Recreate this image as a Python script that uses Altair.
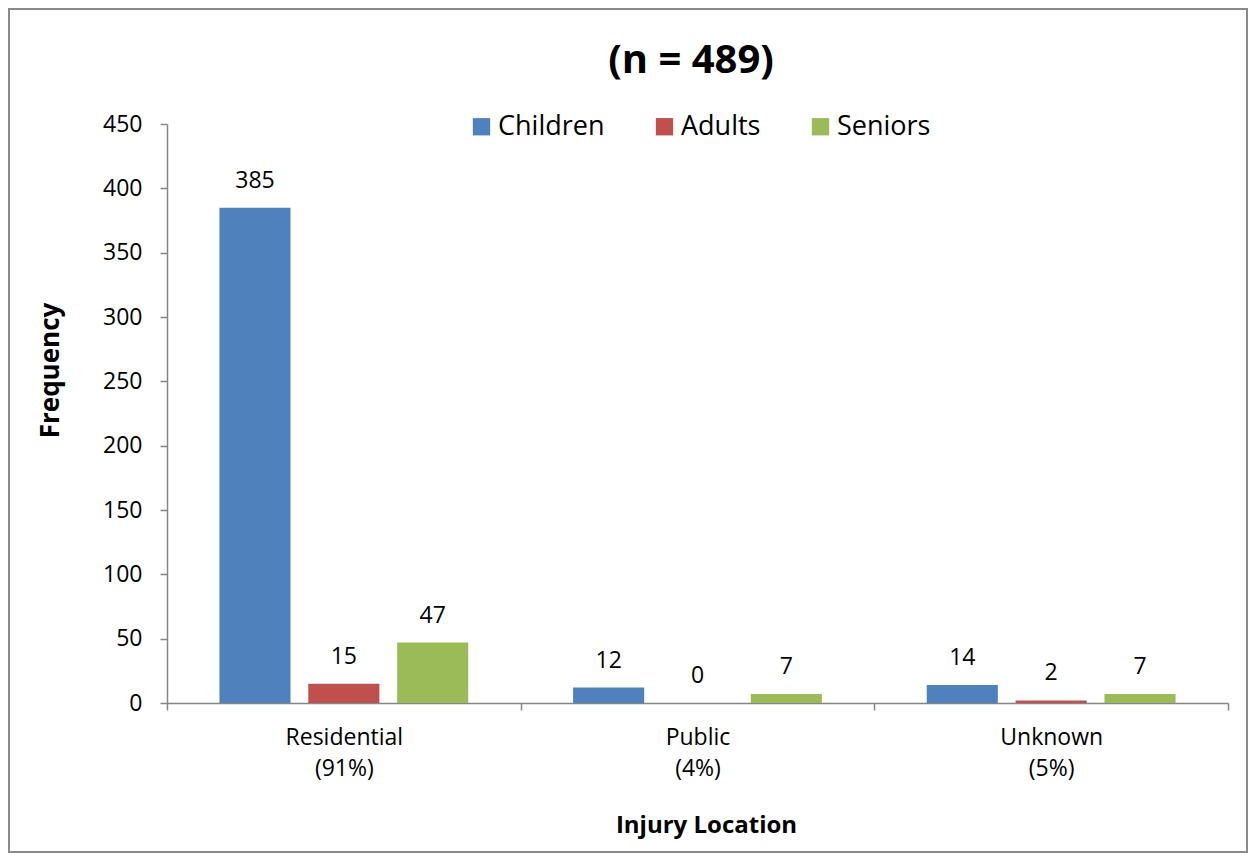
import altair as alt
import pandas as pd

# ---- data ----
categories = ["Residential", "Public", "Unknown"]
shares = ["(91%)", "(4%)", "(5%)"]
groups = ["Children", "Adults", "Seniors"]
children = [385, 12, 14]
adults = [15, 0, 2]
seniors = [47, 7, 7]
colors = ["#4F81BD", "#C0504D", "#9BBB59"]
title_text = "(n = 489)"
y_ticks = list(range(0, 451, 50))

loc_labels = [c + "|" + s for c, s in zip(categories, shares)]
rows = []
for i, loc in enumerate(loc_labels):
    for g, vals in zip(groups, [children, adults, seniors]):
        rows.append({"loc": loc, "group": g, "value": vals[i]})
df = pd.DataFrame(rows)

W, H = 1061, 579
FONT = "Open Sans"
AXIS_GRAY = "#868686"

x_enc = alt.X(
    "loc:N",
    sort=loc_labels,
    scale=alt.Scale(paddingInner=0, paddingOuter=0),
    axis=alt.Axis(
        title="Injury Location",
        labelExpr="split(datum.label, '|')",
        labelAngle=0,
        labelFontSize=23,
        labelLineHeight=31,
        labelPadding=16,
        labelColor="black",
        tickSize=7,
        tickBand="extent",
        domainColor=AXIS_GRAY,
        tickColor=AXIS_GRAY,
        domainWidth=1.5,
        tickWidth=1.5,
        titleFontSize=24,
        titleFontWeight="bold",
        titleColor="black",
        titleX=539,
        titleY=129,
        titleAlign="center",
        titleBaseline="alphabetic",
    ),
)
xoff = alt.XOffset("group:N", sort=groups,
                   scale=alt.Scale(paddingInner=0.2, paddingOuter=0.59))
y_enc = alt.Y(
    "value:Q",
    scale=alt.Scale(domain=[0, 450], nice=False),
    axis=alt.Axis(
        values=y_ticks,
        title="Frequency",
        grid=False,
        labelFontSize=23,
        labelPadding=18,
        labelColor="black",
        tickSize=7,
        domainColor=AXIS_GRAY,
        tickColor=AXIS_GRAY,
        domainWidth=1.5,
        tickWidth=1.5,
        titleFontSize=26,
        titleFontWeight="bold",
        titleColor="black",
        titleX=-109,
        titleY=246,
        titleAngle=270,
        titleAlign="center",
        titleBaseline="alphabetic",
    ),
)
color_enc = alt.Color(
    "group:N",
    sort=groups,
    scale=alt.Scale(domain=groups, range=colors),
    legend=alt.Legend(
        orient="none",
        legendX=301,
        legendY=-11,
        direction="horizontal",
        title=None,
        symbolType="square",
        symbolSize=300,
        symbolStrokeWidth=0,
        symbolOpacity=1,
        labelFontSize=27,
        labelOffset=3,
        labelColor="black",
        columnPadding=46,
        padding=0,
    ),
)

base = alt.Chart(df)
bars = base.mark_bar().encode(
    x=x_enc, xOffset=xoff, y=y_enc, color=color_enc
)
labels = base.mark_text(dy=-20, baseline="alphabetic", fontSize=23, color="black").encode(
    x=alt.X("loc:N", sort=loc_labels), xOffset=alt.XOffset("group:N", sort=groups),
    y=alt.Y("value:Q"), text="value:Q"
)

title = alt.Chart(pd.DataFrame({"t": [title_text]})).mark_text(
    fontSize=40, fontWeight="bold", align="center", baseline="alphabetic", color="black"
).encode(text="t:N", x=alt.value(524), y=alt.value(-51))

border = alt.Chart(pd.DataFrame({"k": [0]})).mark_rect(
    fillOpacity=0, stroke="#8a8a8a", strokeWidth=2
).encode(x=alt.value(-158), x2=alt.value(1080), y=alt.value(-115), y2=alt.value(728))

chart = alt.layer(border, bars, labels, title).properties(
    width=W,
    height=H,
    autosize=alt.AutoSizeParams(type="none"),
    padding={"left": 159, "top": 116, "right": 20, "bottom": 150},
).configure(font=FONT).configure_view(stroke=None)

chart.save("out.html", embed_options={"renderer": "svg", "actions": False})
